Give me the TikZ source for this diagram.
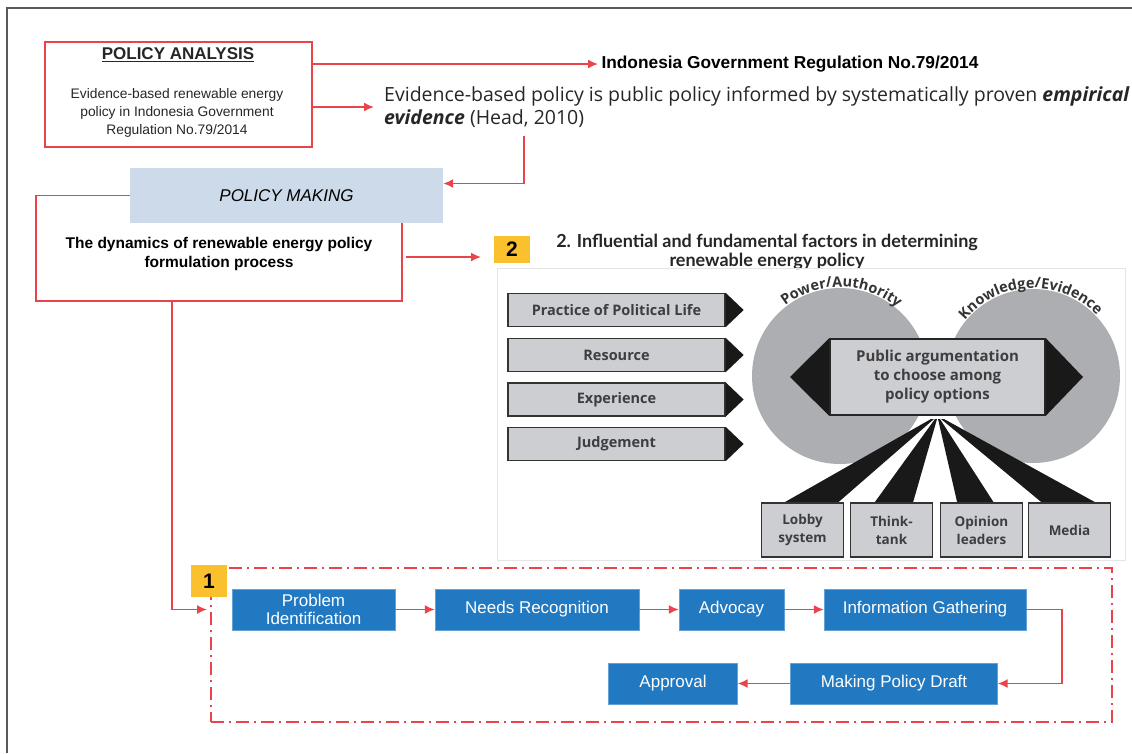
\documentclass[tikz,border=0pt]{standalone}
\usepackage{fontspec}
\setmainfont{Liberation Sans}
\newfontfamily\latofont{Lato}
\newfontfamily\opensans{Open Sans}
\usetikzlibrary{arrows.meta, positioning, decorations.text}

\definecolor{polred}{RGB}{232,68,74}
\definecolor{flowblue}{RGB}{33,121,193}
\definecolor{badgeyellow}{RGB}{251,192,45}
\definecolor{pmblue}{RGB}{205,218,234}
\definecolor{circgray}{RGB}{172,174,178}
\definecolor{barfill}{RGB}{205,206,210}
\definecolor{inkgray}{RGB}{62,62,64}

\newcommand{\fsz}[2]{\fontsize{#1}{#2}\selectfont}

\begin{document}
\begin{tikzpicture}[x=1pt, y=-1pt, >={Latex[length=10pt, width=9pt]}, redline/.style={draw=polred, line width=1.6pt},
  badge/.style={fill=badgeyellow, minimum width=36pt, font=\fsz{21}{24}\bfseries, inner sep=0pt},
  factor/.style={rectangle, fill=barfill, draw=black!80, line width=1.3pt, minimum width=217pt, minimum height=33pt, font=\opensans\fsz{14.5}{16}\bfseries, text=inkgray},
  actor/.style={rectangle, fill=barfill, draw=black!80, line width=1.3pt, minimum width=82pt, minimum height=54pt, align=center, font=\opensans\fsz{13.5}{18}\bfseries, text=inkgray, inner sep=1pt},
  flowbox/.style={rectangle, fill=flowblue, draw=flowblue!70!white, minimum height=41pt, align=center, text=white, font=\fsz{17}{18}, inner sep=1pt}]
  \useasboundingbox (0,0) rectangle (1132,753);
  \draw[black!65, line width=1.2pt] (1132,8) -- (7,8) -- (7,753);

  % policy analysis
  \node[redline, minimum width=267pt, minimum height=105pt] (pa) at (178.5,94.5) {};
  \node[font=\fsz{17}{20}\bfseries, text=black!85] (patitle) at (178,55) {\underline{POLICY ANALYSIS}};
  \node[align=center, font=\fsz{13.8}{18}, text=black!85] (patext) at (177,113) {Evidence-based renewable energy\\policy in Indonesia Government\\Regulation No.79/2014};

  \node[anchor=west, font=\fsz{17.3}{20}\bfseries] (reg) at (598,64) {Indonesia Government Regulation No.79/2014};
  \node[anchor=north west, align=left, font=\opensans\fsz{19.5}{23}, text=black!85, inner sep=2pt] (ev) at (382,84)
    {Evidence-based policy is public policy informed by systematically proven \textbf{\textit{empirical}}\\\textbf{\textit{evidence}} (Head, 2010)};
  \draw[redline, ->] (pa.east |- reg.west) -- (reg.west);
  \draw[redline, ->] (pa.east |- 0,107) -- (374,107);

  % policy making
  \node[fill=pmblue, minimum width=313pt, minimum height=55pt, font=\fsz{17}{20}\itshape] (pm) at (286.5,195.5) {POLICY MAKING};
  \coordinate (evfoot) at (524,136);
  \draw[redline, ->] (evfoot) |- ([yshift=12pt]pm.east);
  \draw[redline] (pm.west) -| (36,301) -- (402,301) -- (pm.south -| 402,0);
  \node[align=center, font=\fsz{15.5}{19}\bfseries] (dyn) at (219,254) {The dynamics of renewable energy policy\\formulation process};
  \coordinate (dynR) at (406,257);
  \coordinate (badgeL) at (481,257);
  \draw[redline, ->] (dynR) -- (badgeL);

  % factors in determining the policy
  \node[badge, minimum height=27pt] (b2) at (512,249) {2};
  \node[align=center, font=\latofont\fsz{18}{19}\bfseries, text=black!85, inner sep=0pt] (head) at (767,252)
    {2. Influential and fundamental factors in determining\\renewable energy policy};
  \draw[black!10] (497,268) rectangle (1125,560);

  \fill[circgray] (840,376) circle (88);
  \fill[circgray] (1033,376) circle (87);
  \path[decorate, decoration={text along path, text align=center, raise=0pt,
    text={|\opensans\fsz{14.5}{16}\bfseries\color{black!80}|Power/Authority}}]
    (840,376) ++(-145:89) arc[start angle=-145, end angle=-33, radius=89];
  \path[decorate, decoration={text along path, text align=center, raise=0pt,
    text={|\opensans\fsz{14.5}{16}\bfseries\color{black!80}|Knowledge/Evidence}}]
    (1033,376) ++(-162:88) arc[start angle=-162, end angle=-22, radius=88];

  \node[fill=barfill, draw=black!85, line width=1.6pt, minimum width=215pt, minimum height=76pt, align=center,
    font=\opensans\fsz{15}{19}\bfseries, text=inkgray] (arg) at (937.5,377) {Public argumentation\\to choose among\\policy options};
  \fill[black!90] (arg.north west) -- (790,377) -- (arg.south west) -- cycle;
  \fill[black!90] (arg.north east) -- (1083,377) -- (arg.south east) -- cycle;

  \fill[black!90] (931,419) -- (934,419) -- (834,506) -- (778,506) -- cycle;
  \fill[black!90] (935,419) -- (937,419) -- (912,506) -- (872,506) -- cycle;
  \fill[black!90] (938,419) -- (940,419) -- (996,506) -- (958,506) -- cycle;
  \fill[black!90] (941,419) -- (944,419) -- (1102,506) -- (1046,506) -- cycle;

  \node[actor] (lob) at (802.5,530) {Lobby\\system};
  \node[actor] (thk) at (891.5,530) {Think-\\tank};
  \node[actor] (opi) at (981.5,530) {Opinion\\leaders};
  \node[actor] (med) at (1069.5,530) {Media};

  \node[factor] (f1) at (616.5,310) {Practice of Political Life};
  \node[factor] (f2) at (616.5,355) {Resource};
  \node[factor] (f3) at (616.5,399.5) {Experience};
  \node[factor] (f4) at (616.5,444) {Judgement};
  \fill[black!90] (f1.north east) -- ([xshift=18pt]f1.east) -- (f1.south east) -- cycle;
  \fill[black!90] (f2.north east) -- ([xshift=18pt]f2.east) -- (f2.south east) -- cycle;
  \fill[black!90] (f3.north east) -- ([xshift=18pt]f3.east) -- (f3.south east) -- cycle;
  \fill[black!90] (f4.north east) -- ([xshift=18pt]f4.east) -- (f4.south east) -- cycle;

  % formulation process
  \node[draw=polred, line width=2pt, dash pattern=on 13pt off 5pt on 2pt off 5pt, minimum width=901pt, minimum height=154pt] (flow) at (661.5,645) {};
  \node[badge, minimum height=32pt] (b1) at (209,581) {1};

  \node[flowbox, minimum width=163pt] (pi) at (313.5,609.5) {Problem\\Identification};
  \node[flowbox, minimum width=204pt] (nr) at (537,609.5) {Needs Recognition};
  \node[flowbox, minimum width=105pt] (adv) at (731.5,609.5) {Advocay};
  \node[flowbox, minimum width=202pt] (ig) at (925,609.5) {Information Gathering};
  \node[flowbox, minimum width=207pt] (mpd) at (894,683.5) {Making Policy Draft};
  \node[flowbox, minimum width=129pt] (app) at (673,683.5) {Approval};

  \draw[redline, ->] (172,301) |- ([xshift=-3pt]flow.west |- pi);
  \draw[redline, ->] (pi) -- (nr);
  \draw[redline, ->] (nr) -- (adv);
  \draw[redline, ->] (adv) -- (ig);
  \draw[redline, ->] (ig.east) -- ++(36,0) |- (mpd.east);
  \draw[redline, ->] (mpd) -- (app);
\end{tikzpicture}
\end{document}
